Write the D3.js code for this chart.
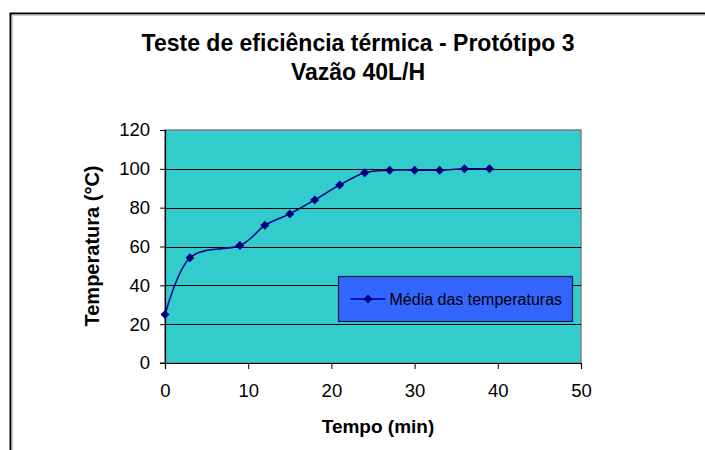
<!DOCTYPE html>
<html>
<head>
<meta charset="utf-8">
<script src="https://cdn.jsdelivr.net/npm/d3@7"></script>
<style>
  body { margin: 0; background: #fff; }
  svg { display: block; font-family: "Liberation Sans", Arial, sans-serif; }
</style>
</head>
<body>
<svg width="705" height="450"></svg>
<script>
// data
const tempo = [0, 3, 9, 12, 15, 18, 21, 24, 27, 30, 33, 36, 39];
const temperatura = [25, 54.2, 60.5, 70.9, 76.8, 84, 91.7, 98, 99.3, 99.3, 99.3, 100, 100];
const xTicks = [0, 10, 20, 30, 40, 50];
const yTicks = [0, 20, 40, 60, 80, 100, 120];
const titleLines = ['Teste de eficiência térmica - Protótipo 3', 'Vazão 40L/H'];
const seriesName = 'Média das temperaturas';

const svg = d3.select('svg');
const margin = { top: 130, left: 165, right: 124, bottom: 87 };
const width = +svg.attr('width');
const height = +svg.attr('height');
const innerWidth = width - margin.left - margin.right;
const innerHeight = height - margin.top - margin.bottom;

// outer chart frame (only left and top edges visible)
svg.append('path')
  .attr('d', `M10.5,${height} V13.5 H${width}`)
  .attr('fill', 'none')
  .attr('stroke', '#000')
  .attr('stroke-width', 2);
svg.append('path')
  .attr('d', `M12,${height} V15 H${width}`)
  .attr('fill', 'none')
  .attr('stroke', '#aaa')
  .attr('stroke-width', 1);

// title
svg.append('text')
  .attr('x', 358)
  .attr('y', 51)
  .attr('text-anchor', 'middle')
  .attr('font-size', 23)
  .attr('font-weight', 'bold')
  .selectAll('tspan')
  .data(titleLines)
  .enter().append('tspan')
  .attr('x', 358)
  .attr('dy', (d, i) => i === 0 ? 0 : 29)
  .text(d => d);

const g = svg.append('g')
  .attr('transform', `translate(${margin.left},${margin.top})`);

const x = d3.scaleLinear().domain([0, 50]).range([0, innerWidth]);
const y = d3.scaleLinear().domain([0, 120]).range([innerHeight, 0]);

// plot background
g.append('rect')
  .attr('width', innerWidth)
  .attr('height', innerHeight)
  .attr('fill', '#33CCCC')
  .attr('stroke', '#808080')
  .attr('stroke-width', 1.5);

// gridlines
g.selectAll('.grid')
  .data(yTicks.filter(d => d > 0 && d < 120))
  .enter().append('line')
  .attr('x1', 0)
  .attr('x2', innerWidth)
  .attr('y1', d => Math.round(y(d)) + 0.5)
  .attr('y2', d => Math.round(y(d)) + 0.5)
  .attr('stroke', '#000')
  .attr('stroke-width', 1);

// axes
const yAxis = g.append('g')
  .call(d3.axisLeft(y).tickValues(yTicks).tickSize(5).tickPadding(10));
const xAxis = g.append('g')
  .attr('transform', `translate(0,${innerHeight})`)
  .call(d3.axisBottom(x).tickValues(xTicks).tickSize(6).tickPadding(15));
[xAxis, yAxis].forEach(a => {
  a.attr('font-size', 18.5).attr('font-family', '"Liberation Sans", Arial, sans-serif');
  a.select('.domain').attr('stroke', '#000').attr('stroke-width', 1.2);
  a.selectAll('.tick line').attr('stroke', '#000');
  a.selectAll('.tick text').attr('fill', '#000');
});
yAxis.select('.domain').attr('d', `M-5,0.5H0.5V${innerHeight}H-5`);

// axis titles
svg.append('text')
  .attr('x', 378)
  .attr('y', 433)
  .attr('text-anchor', 'middle')
  .attr('font-size', 19)
  .attr('font-weight', 'bold')
  .text('Tempo (min)');

svg.append('text')
  .attr('transform', 'translate(99,246) rotate(-90)')
  .attr('text-anchor', 'middle')
  .attr('font-size', 20)
  .attr('font-weight', 'bold')
  .text('Temperatura (°C)');

// series
const pts = tempo.map((t, i) => [t, temperatura[i]]);
const line = d3.line()
  .x(d => x(d[0]))
  .y(d => y(d[1]))
  .curve(d3.curveCatmullRom.alpha(0));

g.append('path')
  .datum(pts)
  .attr('fill', 'none')
  .attr('stroke', '#000080')
  .attr('stroke-width', 1.5)
  .attr('d', line);

const marker = d3.symbol().type(d3.symbolSquare).size(40);
g.selectAll('.pt')
  .data(pts)
  .enter().append('path')
  .attr('transform', d => `translate(${x(d[0])},${y(d[1])}) rotate(45)`)
  .attr('d', marker)
  .attr('fill', '#000080');

// legend
const lg = svg.append('g').attr('transform', 'translate(338.5,276.5)');
lg.append('rect')
  .attr('width', 234)
  .attr('height', 45)
  .attr('fill', '#3366FF')
  .attr('stroke', '#1a1a40')
  .attr('stroke-width', 1.2);
lg.append('line')
  .attr('x1', 12).attr('x2', 47)
  .attr('y1', 22.5).attr('y2', 22.5)
  .attr('stroke', '#000080')
  .attr('stroke-width', 1.5);
lg.append('path')
  .attr('transform', 'translate(29.5,22.5) rotate(45)')
  .attr('d', marker)
  .attr('fill', '#000080');
lg.append('text')
  .attr('x', 51)
  .attr('y', 28)
  .attr('font-size', 16)
  .attr('fill', '#000')
  .text(seriesName);
</script>
</body>
</html>
